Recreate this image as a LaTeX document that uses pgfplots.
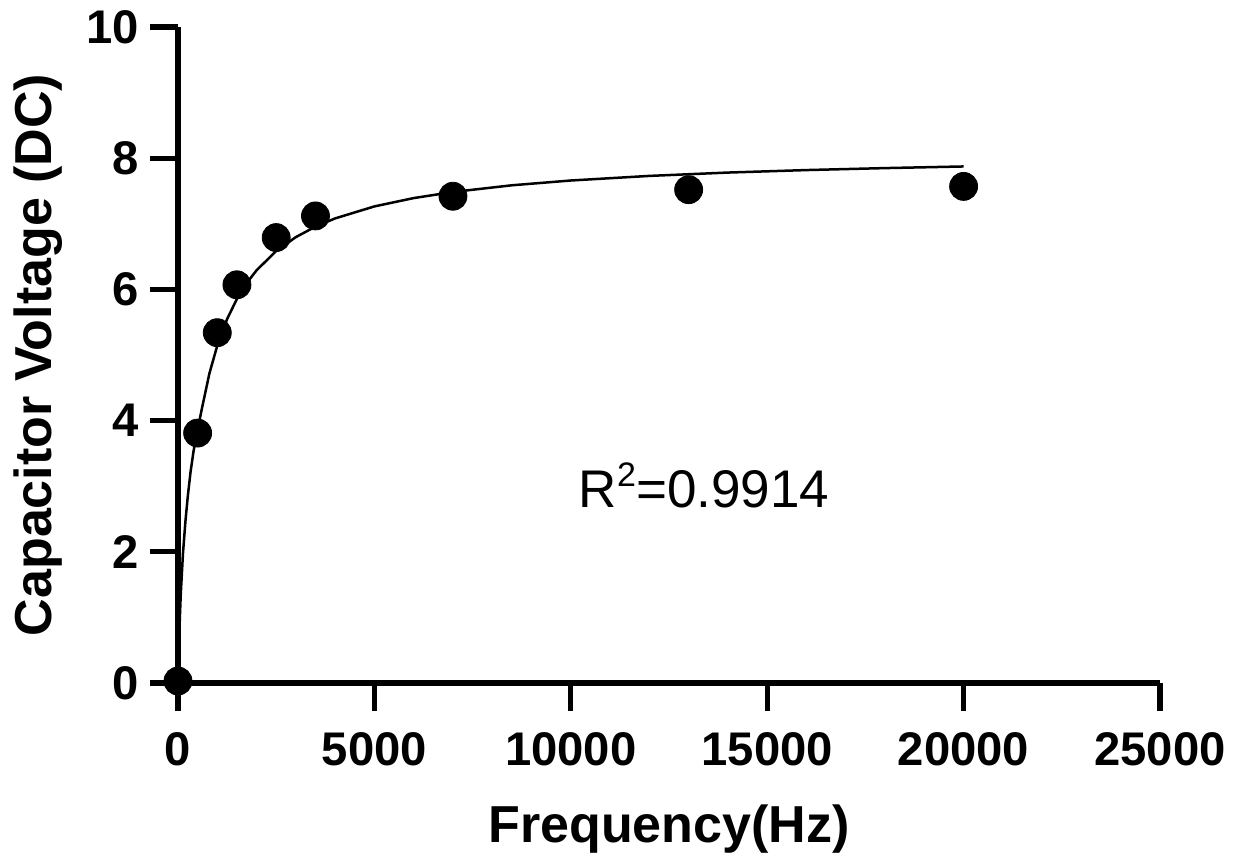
\documentclass[border=0pt]{standalone}
\usepackage{pgfplots}
\pgfplotsset{compat=1.18}
\usepackage{fontspec}
\setmainfont{Liberation Sans}

\begin{document}
\begin{tikzpicture}
\useasboundingbox (-89pt,-86.5pt) rectangle (528pt,341.5pt);
\begin{axis}[
    at={(0,0)}, anchor=south west,
    scale only axis, width=491pt, height=328pt,
    xmin=0, xmax=25000, ymin=0, ymax=10,
    axis x line*=bottom, axis y line*=left,
    axis line style={-, line width=2.6pt},
    xtick={0,5000,...,25000}, ytick={0,2,...,10},
    minor tick num=0,
    tick align=outside, major tick length=14pt,
    tick style={line width=2.6pt, black},
    scaled x ticks=false,
    /pgf/number format/1000 sep={},
    /pgf/number format/assume math mode=true,
    ticklabel style={font=\fontsize{23.6}{28}\selectfont\bfseries},
    xticklabel style={yshift=-7pt},
    yticklabel style={xshift=-2pt},
    xlabel={Frequency(Hz)},
    ylabel={Capacitor Voltage (DC)},
    label style={font=\fontsize{26}{31}\selectfont\bfseries},
    xlabel style={at={(axis description cs:0.5,-0.222)}, anchor=center},
    ylabel style={at={(axis description cs:-0.1426,0.5)}, anchor=center},
    clip=false,
  ]
  % fitted curve
  \addplot[black, line width=1.25pt] coordinates {
    (0,0) (30,0.72) (70,1.35) (127,1.98) (190,2.47) (250,2.85) (320,3.22)
    (400,3.55) (500,3.86) (600,4.16) (800,4.72) (1000,5.143) (1250,5.548)
    (1500,5.855) (1750,6.097) (2000,6.291) (2500,6.585) (3000,6.797)
    (3500,6.957) (4000,7.082) (5000,7.265) (6000,7.392) (7000,7.485)
    (8500,7.587) (10000,7.660) (12000,7.730) (14000,7.781) (16000,7.819)
    (18000,7.849) (20000,7.874)
  };
  % measured points
  \addplot[only marks, mark=*, mark size=7pt, black] coordinates {
    (0,0.03) (500,3.81) (1000,5.34) (1500,6.07) (2500,6.79)
    (3500,7.12) (7000,7.42) (13000,7.52) (20000,7.57)
  };
  \node[anchor=base, font=\fontsize{26.5}{32}\selectfont]
    at (axis cs:13391,2.67)
    {R\raisebox{0.40em}{\fontsize{17}{17}\selectfont 2}=0.9914};
\end{axis}
\end{tikzpicture}
\end{document}
